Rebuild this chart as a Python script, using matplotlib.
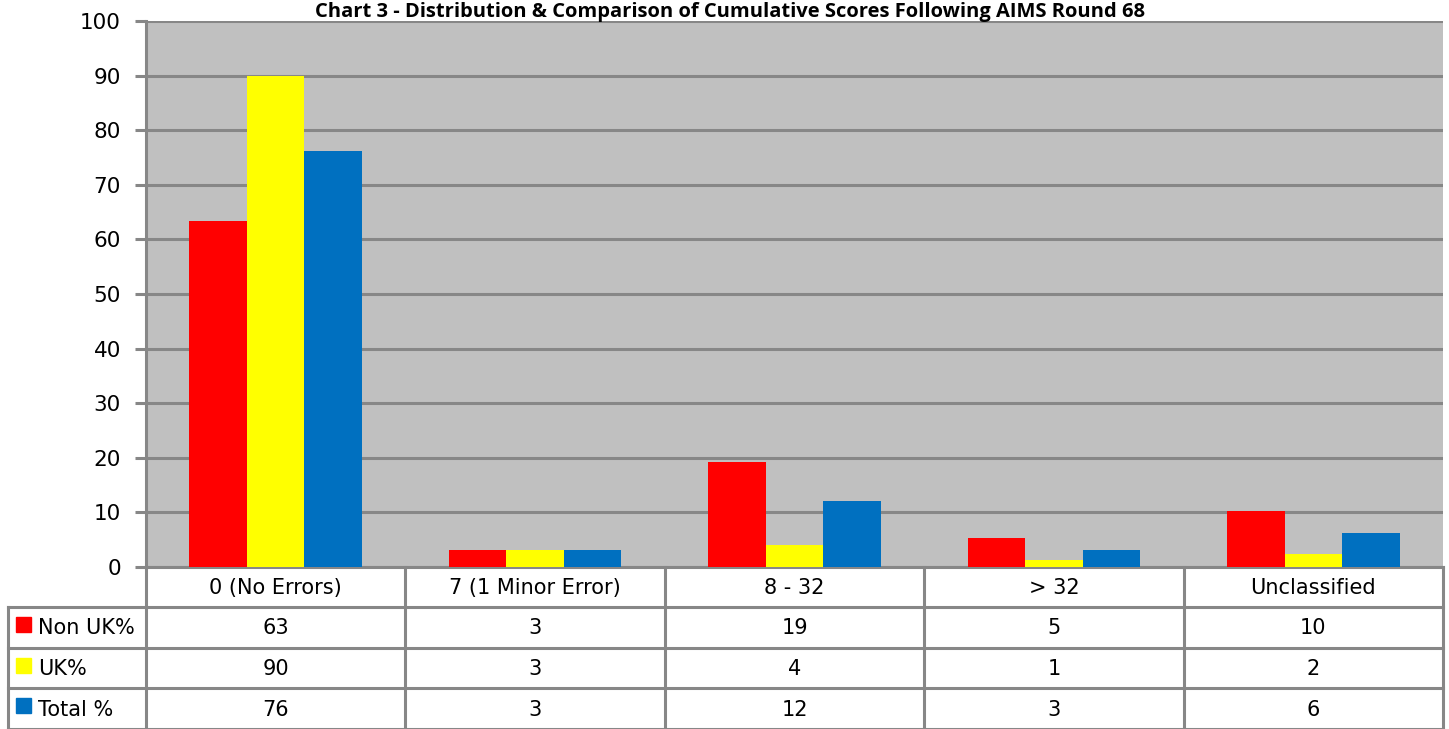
import matplotlib
matplotlib.use("Agg")
import matplotlib.pyplot as plt
from matplotlib.patches import Rectangle
import numpy as np

categories = ["0 (No Errors)", "7 (1 Minor Error)", "8 - 32", "> 32", "Unclassified"]
series_names = ["Non UK%", "UK%", "Total %"]
non_uk = [63.3, 3.1, 19.3, 5.3, 10.3]
uk = [89.9, 3.1, 4.1, 1.3, 2.4]
total = [76.2, 3.1, 12.0, 3.1, 6.3]
table_non_uk = ["63", "3", "19", "5", "10"]
table_uk = ["90", "3", "4", "1", "2"]
table_total = ["76", "3", "12", "3", "6"]
title = "Chart 3 - Distribution & Comparison of Cumulative Scores Following AIMS Round 68"

colors = ["#FF0000", "#FFFF00", "#0070C0"]
grid_c = "#878787"
W, H = 1449, 729
plt.rcParams['font.family'] = ['DejaVu Sans']

fig = plt.figure(figsize=(W / 100, H / 100), dpi=100)
fig.patch.set_facecolor("white")

# pixel layout
x0, x1 = 146, 1443
y_top, y_zero = 21, 567
ax = fig.add_axes([x0 / W, 1 - y_zero / H, (x1 - x0) / W, (y_zero - y_top) / H])
ax.set_facecolor("#C0C0C0")
ax.set_xlim(-0.5, len(categories) - 0.5)
ax.set_ylim(0, 100)
ax.set_yticks(range(0, 101, 10))
ax.tick_params(axis='y', labelsize=15.5, length=8, width=2.2, color=grid_c, pad=10)
ax.set_xticks([])
ax.yaxis.grid(True, color=grid_c, linewidth=2.2)
ax.set_axisbelow(True)
for s in ["top", "right"]:
    ax.spines[s].set_visible(False)
for s in ["left", "bottom"]:
    ax.spines[s].set_color(grid_c)
    ax.spines[s].set_linewidth(2.2)

bw = 0.222
x = np.arange(len(categories))
for i, (vals, c) in enumerate(zip([non_uk, uk, total], colors)):
    ax.bar(x + (i - 1) * bw, vals, width=bw, color=c, zorder=3, linewidth=0)

fig.text(730 / W, 1 - 17 / H, title, ha='center', va='baseline', fontsize=14.5,
         fontweight='bold', family='Open Sans')

# data table in pixel coordinates
tab = fig.add_axes([0, 0, 1, 1], zorder=5)
tab.set_xlim(0, W)
tab.set_ylim(H, 0)
tab.axis('off')
col_edges = np.linspace(x0, x1, len(categories) + 1)
row_edges = [567, 607, 648, 688, 729]
lw = 2.2
for cx in col_edges:
    tab.plot([cx, cx], [row_edges[0], row_edges[-1]], color=grid_c, lw=lw)
tab.plot([8, 8], [row_edges[1], row_edges[-1]], color=grid_c, lw=lw)
tab.plot([x0, x1], [row_edges[1], row_edges[1]], color=grid_c, lw=lw)
tab.plot([8, x0], [row_edges[1], row_edges[1]], color=grid_c, lw=lw)
for ry in row_edges[2:]:
    tab.plot([8, x1], [ry, ry], color=grid_c, lw=lw)

fs = 15
for j, cat in enumerate(categories):
    cx = (col_edges[j] + col_edges[j + 1]) / 2
    tab.text(cx, (row_edges[0] + row_edges[1]) / 2 + 1, cat, ha='center', va='center', fontsize=fs)
rows = [table_non_uk, table_uk, table_total]
for r, (name, vals, c) in enumerate(zip(series_names, rows, colors)):
    cy = (row_edges[r + 1] + row_edges[r + 2]) / 2
    tab.add_patch(Rectangle((16, cy - 10.5), 15, 15, color=c))
    tab.text(38, cy + 1, name, ha='left', va='center', fontsize=fs)
    for j, v in enumerate(vals):
        cx = (col_edges[j] + col_edges[j + 1]) / 2
        tab.text(cx, cy + 1, v, ha='center', va='center', fontsize=fs)

fig.savefig("out.png", dpi=100)
